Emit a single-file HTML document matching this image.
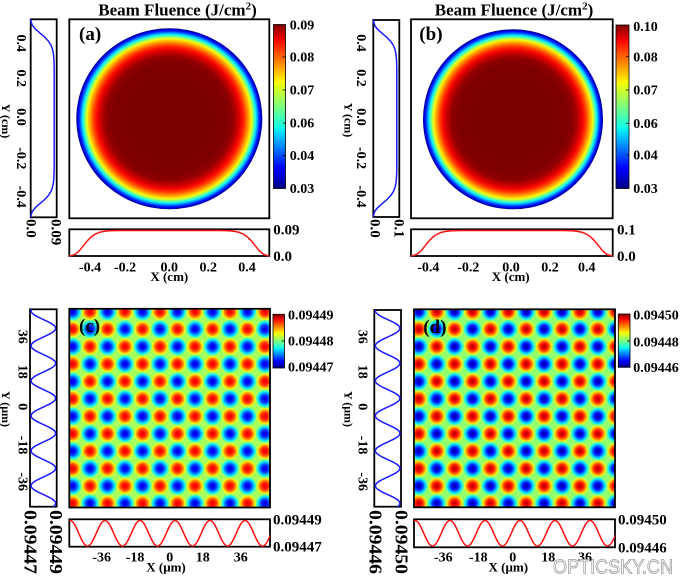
<!DOCTYPE html>
<html><head><meta charset="utf-8"><style>
html,body{margin:0;padding:0;background:#fff;}
svg{display:block;}
</style></head><body>
<svg width="680" height="579" viewBox="0 0 680 579" xmlns="http://www.w3.org/2000/svg" font-family="'Liberation Serif', serif" font-weight="bold">
<defs>
  <linearGradient id="jet" x1="0" y1="0" x2="0" y2="1">
    <stop offset="0" stop-color="#800000"/>
    <stop offset="0.09" stop-color="#f20000"/>
    <stop offset="0.11" stop-color="#ff1200"/>
    <stop offset="0.34" stop-color="#ffee00"/>
    <stop offset="0.36" stop-color="#f0ff08"/>
    <stop offset="0.625" stop-color="#14ffe6"/>
    <stop offset="0.66" stop-color="#00dbff"/>
    <stop offset="0.875" stop-color="#0000ff"/>
    <stop offset="0.89" stop-color="#0000fa"/>
    <stop offset="1" stop-color="#000080"/>
  </linearGradient>
  <radialGradient id="beam" cx="50%" cy="50%" r="50%">
    <stop offset="0" stop-color="#7a0000"/>
    <stop offset="0.6" stop-color="#7e0000"/>
    <stop offset="0.63" stop-color="#850000"/>
    <stop offset="0.67" stop-color="#8c0000"/>
    <stop offset="0.70" stop-color="#a00000"/>
    <stop offset="0.73" stop-color="#c00000"/>
    <stop offset="0.76" stop-color="#e40000"/>
    <stop offset="0.79" stop-color="#ff1400"/>
    <stop offset="0.82" stop-color="#ff5000"/>
    <stop offset="0.845" stop-color="#ff9000"/>
    <stop offset="0.87" stop-color="#ffd000"/>
    <stop offset="0.885" stop-color="#f0ff10"/>
    <stop offset="0.905" stop-color="#90ff70"/>
    <stop offset="0.925" stop-color="#20ffe0"/>
    <stop offset="0.94" stop-color="#00c8ff"/>
    <stop offset="0.955" stop-color="#0070ff"/>
    <stop offset="0.97" stop-color="#0020ff"/>
    <stop offset="0.985" stop-color="#0000d8"/>
    <stop offset="1" stop-color="#000088"/>
  </radialGradient>
  <radialGradient id="rc" cx="50%" cy="50%" r="50%">
    <stop offset="0" stop-color="#e80000"/>
    <stop offset="0.25" stop-color="#ff0c00"/>
    <stop offset="0.45" stop-color="#ff4400"/>
    <stop offset="0.6" stop-color="#ff8c00"/>
    <stop offset="0.72" stop-color="#ffc800"/>
    <stop offset="0.82" stop-color="#e8ff20"/>
    <stop offset="0.92" stop-color="#b8ff48"/>
    <stop offset="1" stop-color="#a6ff5c"/>
  </radialGradient>
  <radialGradient id="bc" cx="50%" cy="50%" r="50%">
    <stop offset="0" stop-color="#0000c8"/>
    <stop offset="0.25" stop-color="#0008ff"/>
    <stop offset="0.45" stop-color="#0050ff"/>
    <stop offset="0.6" stop-color="#0098ff"/>
    <stop offset="0.72" stop-color="#00d8ff"/>
    <stop offset="0.82" stop-color="#20ffe0"/>
    <stop offset="0.92" stop-color="#68ff98"/>
    <stop offset="1" stop-color="#a6ff5c"/>
  </radialGradient>
  <radialGradient id="rd" cx="50%" cy="50%" r="50%">
    <stop offset="0" stop-color="#b00000"/>
    <stop offset="0.2" stop-color="#e00000"/>
    <stop offset="0.35" stop-color="#ff1000"/>
    <stop offset="0.5" stop-color="#ff5000"/>
    <stop offset="0.62" stop-color="#ff9000"/>
    <stop offset="0.74" stop-color="#ffd000"/>
    <stop offset="0.84" stop-color="#d8ff30"/>
    <stop offset="0.93" stop-color="#a8ff58"/>
    <stop offset="1" stop-color="#94ff6c"/>
  </radialGradient>
  <radialGradient id="bd" cx="50%" cy="50%" r="50%">
    <stop offset="0" stop-color="#000090"/>
    <stop offset="0.2" stop-color="#0000d8"/>
    <stop offset="0.35" stop-color="#0010ff"/>
    <stop offset="0.5" stop-color="#0058ff"/>
    <stop offset="0.62" stop-color="#00a0ff"/>
    <stop offset="0.74" stop-color="#00e0ff"/>
    <stop offset="0.84" stop-color="#30ffd0"/>
    <stop offset="0.93" stop-color="#70ff90"/>
    <stop offset="1" stop-color="#94ff6c"/>
  </radialGradient>
  <pattern id="pc" patternUnits="userSpaceOnUse" x="90" y="311.7" width="35" height="34.86">
    <rect width="35" height="34.86" fill="#a6ff5c"/>
    <circle cx="0" cy="0" r="9.3" fill="url(#rc)"/>
    <circle cx="35" cy="0" r="9.3" fill="url(#rc)"/>
    <circle cx="0" cy="34.86" r="9.3" fill="url(#rc)"/>
    <circle cx="35" cy="34.86" r="9.3" fill="url(#rc)"/>
    <circle cx="17.5" cy="17.43" r="9.3" fill="url(#rc)"/>
    <circle cx="17.5" cy="0" r="9.3" fill="url(#bc)"/>
    <circle cx="17.5" cy="34.86" r="9.3" fill="url(#bc)"/>
    <circle cx="0" cy="17.43" r="9.3" fill="url(#bc)"/>
    <circle cx="35" cy="17.43" r="9.3" fill="url(#bc)"/>
  </pattern>
  <pattern id="pd" patternUnits="userSpaceOnUse" x="436.7" y="311.7" width="35.8" height="34.86">
    <rect width="35.8" height="34.86" fill="#94ff6c"/>
    <circle cx="0" cy="0" r="9.5" fill="url(#rd)"/>
    <circle cx="35.8" cy="0" r="9.5" fill="url(#rd)"/>
    <circle cx="0" cy="34.86" r="9.5" fill="url(#rd)"/>
    <circle cx="35.8" cy="34.86" r="9.5" fill="url(#rd)"/>
    <circle cx="17.9" cy="17.43" r="9.5" fill="url(#rd)"/>
    <circle cx="17.9" cy="0" r="9.5" fill="url(#bd)"/>
    <circle cx="17.9" cy="34.86" r="9.5" fill="url(#bd)"/>
    <circle cx="0" cy="17.43" r="9.5" fill="url(#bd)"/>
    <circle cx="35.8" cy="17.43" r="9.5" fill="url(#bd)"/>
  </pattern>
  <clipPath id="clc"><rect x="30" y="309.3" width="26.7" height="197.4"/></clipPath>
  <clipPath id="cbc"><rect x="69.3" y="519.3" width="200.7" height="27.4"/></clipPath>
  <clipPath id="cld"><rect x="374.3" y="310" width="26.7" height="196.7"/></clipPath>
  <clipPath id="cbd"><rect x="414" y="519.3" width="201" height="28"/></clipPath>
</defs>

<rect width="680" height="579" fill="#fff"/>

<!-- ================= PANEL (a) ================= -->
<text x="177.5" y="15.5" text-anchor="middle" font-size="17">Beam Fluence (J/cm<tspan font-size="11" dy="-6">2</tspan><tspan dy="6">)</tspan></text>
<rect x="69.3" y="19.3" width="200" height="199" fill="#fff" stroke="#000" stroke-width="1.8"/>
<ellipse cx="169.3" cy="118.8" rx="93" ry="90.5" fill="url(#beam)"/>
<text x="79" y="40" font-size="19">(a)</text>
<rect x="273.5" y="24.5" width="12" height="164" fill="url(#jet)" stroke="#000" stroke-width="0.8"/>
<g stroke="#000" stroke-width="0.8">
  <line x1="282.5" y1="57" x2="285.5" y2="57"/><line x1="282.5" y1="90" x2="285.5" y2="90"/>
  <line x1="282.5" y1="123" x2="285.5" y2="123"/><line x1="282.5" y1="155.5" x2="285.5" y2="155.5"/>
</g>
<g font-size="14">
  <text x="289.7" y="29.7">0.09</text>
  <text x="289.7" y="61.7">0.08</text>
  <text x="289.7" y="94.7">0.07</text>
  <text x="289.7" y="127.7">0.06</text>
  <text x="289.7" y="160.2">0.04</text>
  <text x="289.7" y="193">0.03</text>
</g>
<!-- left profile a -->
<rect x="30.7" y="19.3" width="26" height="198" fill="none" stroke="#000" stroke-width="1.8"/>
<polyline fill="none" stroke="#1a1aff" stroke-width="1.5" stroke-linejoin="round" points="30.8,19.3 31.0,21.3 32.3,25.2 35.5,29.2 40.1,33.2 42.45,35.1 44.7,37.1 48.4,41.1 50.9,45.0 52.4,49.0 53.3,53.0 53.9,58.9 54.2,68 54.2,168.6 53.9,177.7 53.3,183.6 52.4,187.6 50.9,191.6 48.4,195.5 44.7,199.5 42.45,201.5 40.1,203.4 35.5,207.4 32.3,211.4 31.0,215.3 30.8,217.3"/>
<g font-size="14" text-anchor="middle">
  <text transform="translate(21.7,43.3) rotate(90)" y="4.7">0.4</text>
  <text transform="translate(21.7,78.3) rotate(90)" y="4.7">0.2</text>
  <text transform="translate(21.7,117) rotate(90)" y="4.7">0.0</text>
  <text transform="translate(21.7,158.3) rotate(90)" y="4.7">-0.2</text>
  <text transform="translate(21.7,196.7) rotate(90)" y="4.7">-0.4</text>
</g>
<text transform="translate(6,121) rotate(90)" y="4" font-size="12" text-anchor="middle">Y (cm)</text>
<g font-size="15">
  <text transform="translate(31.7,219) rotate(90)" y="5">0.0</text>
  <text transform="translate(56.7,219) rotate(90)" y="5">0.09</text>
</g>
<!-- bottom profile a -->
<rect x="69.3" y="229.3" width="200" height="26.7" fill="none" stroke="#000" stroke-width="1.8"/>
<polyline fill="none" stroke="#ff1010" stroke-width="1.5" stroke-linejoin="round" points="69.3,255.9 71.3,255.7 75.3,254.2 79.3,250.8 83.3,245.8 85.3,243.3 87.3,240.8 91.3,236.8 95.3,234.1 99.3,232.4 103.3,231.5 109.3,230.8 119.3,230.5 219.3,230.5 229.3,230.8 235.3,231.5 239.3,232.4 243.3,234.1 247.3,236.8 251.3,240.8 253.3,243.3 255.3,245.8 259.3,250.8 263.3,254.2 267.3,255.7 269.3,255.9"/>
<g font-size="15">
  <text x="273.3" y="234.3">0.09</text>
  <text x="273.3" y="261">0.0</text>
</g>
<g font-size="14" text-anchor="middle">
  <text x="90" y="271.5">-0.4</text>
  <text x="125" y="271.5">-0.2</text>
  <text x="169.3" y="271.5">0.0</text>
  <text x="208.3" y="271.5">0.2</text>
  <text x="247" y="271.5">0.4</text>
</g>
<text x="169.3" y="281" font-size="13" text-anchor="middle">X (cm)</text>

<!-- ================= PANEL (b) ================= -->
<text x="514" y="15.5" text-anchor="middle" font-size="17">Beam Fluence (J/cm<tspan font-size="11" dy="-6">2</tspan><tspan dy="6">)</tspan></text>
<rect x="411" y="19.3" width="201.7" height="199" fill="#fff" stroke="#000" stroke-width="1.8"/>
<ellipse cx="513" cy="119.3" rx="90" ry="90" fill="url(#beam)"/>
<text x="419.3" y="40" font-size="19">(b)</text>
<rect x="616" y="25" width="13" height="163.5" fill="url(#jet)" stroke="#000" stroke-width="0.8"/>
<g stroke="#000" stroke-width="0.8">
  <line x1="626" y1="56.7" x2="629" y2="56.7"/><line x1="626" y1="90" x2="629" y2="90"/>
  <line x1="626" y1="123.3" x2="629" y2="123.3"/><line x1="626" y1="155" x2="629" y2="155"/>
</g>
<g font-size="14">
  <text x="633.3" y="31">0.10</text>
  <text x="633.3" y="61.4">0.08</text>
  <text x="633.3" y="94.7">0.07</text>
  <text x="633.3" y="128">0.06</text>
  <text x="633.3" y="159.7">0.04</text>
  <text x="633.3" y="193">0.03</text>
</g>
<rect x="373.3" y="20" width="26" height="197" fill="none" stroke="#000" stroke-width="1.8"/>
<polyline fill="none" stroke="#1a1aff" stroke-width="1.5" stroke-linejoin="round" points="373.4,20 373.6,22 374.9,25.9 378.1,29.85 382.7,33.8 385.05,35.8 387.3,37.7 391.0,41.7 393.5,45.6 395.0,49.5 395.9,53.5 396.5,59.4 396.8,68 396.8,169 396.5,177.6 395.9,183.5 395.0,187.5 393.5,191.4 391.0,195.3 387.3,199.3 385.05,201.2 382.7,203.2 378.1,207.15 374.9,211.1 373.6,215 373.4,217"/>
<g font-size="14" text-anchor="middle">
  <text transform="translate(361.7,43) rotate(90)" y="4.7">0.4</text>
  <text transform="translate(361.7,78) rotate(90)" y="4.7">0.2</text>
  <text transform="translate(361.7,117) rotate(90)" y="4.7">0.0</text>
  <text transform="translate(361.7,158) rotate(90)" y="4.7">-0.2</text>
  <text transform="translate(361.7,196.5) rotate(90)" y="4.7">-0.4</text>
</g>
<text transform="translate(348.3,120) rotate(90)" y="4" font-size="12" text-anchor="middle">Y (cm)</text>
<g font-size="15">
  <text transform="translate(375.5,219) rotate(90)" y="5">0.0</text>
  <text transform="translate(399.5,219) rotate(90)" y="5">0.1</text>
</g>
<rect x="411" y="229.3" width="201.7" height="26.7" fill="none" stroke="#000" stroke-width="1.8"/>
<polyline fill="none" stroke="#ff1010" stroke-width="1.5" stroke-linejoin="round" points="411,255.9 413.0,255.7 417.05,254.2 421.1,250.8 425.1,245.8 427.1,243.3 429.15,240.8 433.2,236.8 437.2,234.1 441.25,232.4 445.3,231.5 451.35,230.8 461.5,230.5 562,230.5 572.35,230.8 578.4,231.5 582.45,232.4 586.5,234.1 590.5,236.8 594.55,240.8 596.6,243.3 598.6,245.8 602.6,250.8 606.65,254.2 610.7,255.7 612.7,255.9"/>
<g font-size="15">
  <text x="617" y="234.3">0.1</text>
  <text x="617" y="261">0.0</text>
</g>
<g font-size="14" text-anchor="middle">
  <text x="428.3" y="271.5">-0.4</text>
  <text x="468.3" y="271.5">-0.2</text>
  <text x="511" y="271.5">0.0</text>
  <text x="550" y="271.5">0.2</text>
  <text x="586.7" y="271.5">0.4</text>
</g>
<text x="510.7" y="281" font-size="13" text-anchor="middle">X (cm)</text>

<!-- ================= PANEL (c) ================= -->
<rect x="69.3" y="308.8" width="200.7" height="198.7" fill="url(#pc)"/>
<rect x="69.3" y="308.8" width="200.7" height="198.7" fill="none" stroke="#000" stroke-width="1.8"/>
<text x="79" y="332" font-size="19">(c)</text>
<rect x="273" y="314.3" width="11.5" height="53.7" fill="url(#jet)" stroke="#000" stroke-width="0.8"/>
<line x1="281.5" y1="341" x2="284.5" y2="341" stroke="#000" stroke-width="0.8"/>
<g font-size="14">
  <text x="288" y="319.7">0.09449</text>
  <text x="288" y="345.7">0.09448</text>
  <text x="288" y="371.7">0.09447</text>
</g>
<rect x="30" y="309.3" width="26.7" height="197.4" fill="none" stroke="#000" stroke-width="1.8"/>
<path clip-path="url(#clc)" fill="none" stroke="#1a1aff" stroke-width="1.5" d="M55.65,293.3 c0,3.167 -6.0,5.897 -12.3,8.75 c-6.3,2.853 -12.3,5.583 -12.3,8.75 c0,3.167 6.0,5.897 12.3,8.75 c6.3,2.853 12.3,5.583 12.3,8.75 c0,3.167 -6.0,5.897 -12.3,8.75 c-6.3,2.853 -12.3,5.583 -12.3,8.75 c0,3.167 6.0,5.897 12.3,8.75 c6.3,2.853 12.3,5.583 12.3,8.75 c0,3.167 -6.0,5.897 -12.3,8.75 c-6.3,2.853 -12.3,5.583 -12.3,8.75 c0,3.167 6.0,5.897 12.3,8.75 c6.3,2.853 12.3,5.583 12.3,8.75 c0,3.167 -6.0,5.897 -12.3,8.75 c-6.3,2.853 -12.3,5.583 -12.3,8.75 c0,3.167 6.0,5.897 12.3,8.75 c6.3,2.853 12.3,5.583 12.3,8.75 c0,3.167 -6.0,5.897 -12.3,8.75 c-6.3,2.853 -12.3,5.583 -12.3,8.75 c0,3.167 6.0,5.897 12.3,8.75 c6.3,2.853 12.3,5.583 12.3,8.75 c0,3.167 -6.0,5.897 -12.3,8.75 c-6.3,2.853 -12.3,5.583 -12.3,8.75 c0,3.167 6.0,5.897 12.3,8.75 c6.3,2.853 12.3,5.583 12.3,8.75 c0,3.167 -6.0,5.897 -12.3,8.75 c-6.3,2.853 -12.3,5.583 -12.3,8.75 c0,3.167 6.0,5.897 12.3,8.75 c6.3,2.853 12.3,5.583 12.3,8.75"/>
<g font-size="14" text-anchor="middle">
  <text transform="translate(23.3,336.7) rotate(90)" y="4.7">36</text>
  <text transform="translate(23.3,371.7) rotate(90)" y="4.7">18</text>
  <text transform="translate(23.3,406.7) rotate(90)" y="4.7">0</text>
  <text transform="translate(23.3,445) rotate(90)" y="4.7">-18</text>
  <text transform="translate(23.3,481.7) rotate(90)" y="4.7">-36</text>
</g>
<text transform="translate(6,409) rotate(90)" y="4" font-size="12" text-anchor="middle">Y (μm)</text>
<g font-size="18">
  <text transform="translate(30.5,510) rotate(90)" y="6" textLength="64" lengthAdjust="spacingAndGlyphs">0.09447</text>
  <text transform="translate(55.8,510) rotate(90)" y="6" textLength="64" lengthAdjust="spacingAndGlyphs">0.09449</text>
</g>
<rect x="69.3" y="519.3" width="200.7" height="27.4" fill="none" stroke="#000" stroke-width="1.8"/>
<path clip-path="url(#cbc)" fill="none" stroke="#ff1010" stroke-width="1.5" d="M35,520.5 c3.167,0 5.897,6.243 8.75,12.8 c2.853,6.557 5.583,12.8 8.75,12.8 c3.167,0 5.897,-6.243 8.75,-12.8 c2.853,-6.557 5.583,-12.8 8.75,-12.8 c3.167,0 5.897,6.243 8.75,12.8 c2.853,6.557 5.583,12.8 8.75,12.8 c3.167,0 5.897,-6.243 8.75,-12.8 c2.853,-6.557 5.583,-12.8 8.75,-12.8 c3.167,0 5.897,6.243 8.75,12.8 c2.853,6.557 5.583,12.8 8.75,12.8 c3.167,0 5.897,-6.243 8.75,-12.8 c2.853,-6.557 5.583,-12.8 8.75,-12.8 c3.167,0 5.897,6.243 8.75,12.8 c2.853,6.557 5.583,12.8 8.75,12.8 c3.167,0 5.897,-6.243 8.75,-12.8 c2.853,-6.557 5.583,-12.8 8.75,-12.8 c3.167,0 5.897,6.243 8.75,12.8 c2.853,6.557 5.583,12.8 8.75,12.8 c3.167,0 5.897,-6.243 8.75,-12.8 c2.853,-6.557 5.583,-12.8 8.75,-12.8 c3.167,0 5.897,6.243 8.75,12.8 c2.853,6.557 5.583,12.8 8.75,12.8 c3.167,0 5.897,-6.243 8.75,-12.8 c2.853,-6.557 5.583,-12.8 8.75,-12.8 c3.167,0 5.897,6.243 8.75,12.8 c2.853,6.557 5.583,12.8 8.75,12.8 c3.167,0 5.897,-6.243 8.75,-12.8 c2.853,-6.557 5.583,-12.8 8.75,-12.8"/>
<g font-size="15">
  <text x="273" y="524.3">0.09449</text>
  <text x="273" y="551.7">0.09447</text>
</g>
<g font-size="14" text-anchor="middle">
  <text x="101.7" y="561.5">-36</text>
  <text x="135" y="561.5">-18</text>
  <text x="169.7" y="561.5">0</text>
  <text x="202.7" y="561.5">18</text>
  <text x="240.7" y="561.5">36</text>
</g>
<text x="166" y="571.5" font-size="13" text-anchor="middle">X (μm)</text>

<!-- ================= PANEL (d) ================= -->
<rect x="414" y="309.3" width="201" height="198" fill="url(#pd)"/>
<rect x="414" y="309.3" width="201" height="198" fill="none" stroke="#000" stroke-width="1.8"/>
<text x="423.3" y="333" font-size="19">(d)</text>
<rect x="618.3" y="314" width="11.7" height="53.3" fill="url(#jet)" stroke="#000" stroke-width="0.8"/>
<line x1="627" y1="341" x2="630" y2="341" stroke="#000" stroke-width="0.8"/>
<g font-size="14">
  <text x="633.3" y="319.7">0.09450</text>
  <text x="633.3" y="346.4">0.09448</text>
  <text x="633.3" y="372">0.09446</text>
</g>
<rect x="374.3" y="310" width="26.7" height="196.7" fill="none" stroke="#000" stroke-width="1.8"/>
<path clip-path="url(#cld)" fill="none" stroke="#1a1aff" stroke-width="1.5" d="M399.95,293.3 c0,3.167 -6.0,5.897 -12.3,8.75 c-6.3,2.853 -12.3,5.583 -12.3,8.75 c0,3.167 6.0,5.897 12.3,8.75 c6.3,2.853 12.3,5.583 12.3,8.75 c0,3.167 -6.0,5.897 -12.3,8.75 c-6.3,2.853 -12.3,5.583 -12.3,8.75 c0,3.167 6.0,5.897 12.3,8.75 c6.3,2.853 12.3,5.583 12.3,8.75 c0,3.167 -6.0,5.897 -12.3,8.75 c-6.3,2.853 -12.3,5.583 -12.3,8.75 c0,3.167 6.0,5.897 12.3,8.75 c6.3,2.853 12.3,5.583 12.3,8.75 c0,3.167 -6.0,5.897 -12.3,8.75 c-6.3,2.853 -12.3,5.583 -12.3,8.75 c0,3.167 6.0,5.897 12.3,8.75 c6.3,2.853 12.3,5.583 12.3,8.75 c0,3.167 -6.0,5.897 -12.3,8.75 c-6.3,2.853 -12.3,5.583 -12.3,8.75 c0,3.167 6.0,5.897 12.3,8.75 c6.3,2.853 12.3,5.583 12.3,8.75 c0,3.167 -6.0,5.897 -12.3,8.75 c-6.3,2.853 -12.3,5.583 -12.3,8.75 c0,3.167 6.0,5.897 12.3,8.75 c6.3,2.853 12.3,5.583 12.3,8.75 c0,3.167 -6.0,5.897 -12.3,8.75 c-6.3,2.853 -12.3,5.583 -12.3,8.75 c0,3.167 6.0,5.897 12.3,8.75 c6.3,2.853 12.3,5.583 12.3,8.75"/>
<g font-size="14" text-anchor="middle">
  <text transform="translate(363.3,336.7) rotate(90)" y="4.7">36</text>
  <text transform="translate(363.3,371.7) rotate(90)" y="4.7">18</text>
  <text transform="translate(363.3,406.7) rotate(90)" y="4.7">0</text>
  <text transform="translate(363.3,445) rotate(90)" y="4.7">-18</text>
  <text transform="translate(363.3,481.7) rotate(90)" y="4.7">-36</text>
</g>
<text transform="translate(348.3,409) rotate(90)" y="4" font-size="12" text-anchor="middle">Y (μm)</text>
<g font-size="18">
  <text transform="translate(375.5,510) rotate(90)" y="6" textLength="64" lengthAdjust="spacingAndGlyphs">0.09446</text>
  <text transform="translate(401.5,510) rotate(90)" y="6" textLength="64" lengthAdjust="spacingAndGlyphs">0.09450</text>
</g>
<rect x="414" y="519.3" width="201" height="28" fill="none" stroke="#000" stroke-width="1.8"/>
<path clip-path="url(#cbd)" fill="none" stroke="#ff1010" stroke-width="1.5" d="M380,520.5 c3.167,0 5.897,6.243 8.75,12.8 c2.853,6.557 5.583,12.8 8.75,12.8 c3.167,0 5.897,-6.243 8.75,-12.8 c2.853,-6.557 5.583,-12.8 8.75,-12.8 c3.167,0 5.897,6.243 8.75,12.8 c2.853,6.557 5.583,12.8 8.75,12.8 c3.167,0 5.897,-6.243 8.75,-12.8 c2.853,-6.557 5.583,-12.8 8.75,-12.8 c3.167,0 5.897,6.243 8.75,12.8 c2.853,6.557 5.583,12.8 8.75,12.8 c3.167,0 5.897,-6.243 8.75,-12.8 c2.853,-6.557 5.583,-12.8 8.75,-12.8 c3.167,0 5.897,6.243 8.75,12.8 c2.853,6.557 5.583,12.8 8.75,12.8 c3.167,0 5.897,-6.243 8.75,-12.8 c2.853,-6.557 5.583,-12.8 8.75,-12.8 c3.167,0 5.897,6.243 8.75,12.8 c2.853,6.557 5.583,12.8 8.75,12.8 c3.167,0 5.897,-6.243 8.75,-12.8 c2.853,-6.557 5.583,-12.8 8.75,-12.8 c3.167,0 5.897,6.243 8.75,12.8 c2.853,6.557 5.583,12.8 8.75,12.8 c3.167,0 5.897,-6.243 8.75,-12.8 c2.853,-6.557 5.583,-12.8 8.75,-12.8 c3.167,0 5.897,6.243 8.75,12.8 c2.853,6.557 5.583,12.8 8.75,12.8 c3.167,0 5.897,-6.243 8.75,-12.8 c2.853,-6.557 5.583,-12.8 8.75,-12.8"/>
<g font-size="15">
  <text x="618" y="524.3">0.09450</text>
  <text x="618" y="552.3">0.09446</text>
</g>
<g font-size="14" text-anchor="middle">
  <text x="443.3" y="561.5">-36</text>
  <text x="478.3" y="561.5">-18</text>
  <text x="512.7" y="561.5">0</text>
  <text x="548.3" y="561.5">18</text>
  <text x="585" y="561.5">36</text>
</g>
<text x="508.3" y="571.5" font-size="13" text-anchor="middle">X (μm)</text>

<!-- watermark -->
<text x="553" y="573.5" font-family="'Liberation Sans', sans-serif" font-weight="normal" font-size="20" fill="#fff" stroke="#9a9a9a" stroke-width="0.8" textLength="120" lengthAdjust="spacingAndGlyphs">OPTICSKY.CN</text>
</svg>
</body></html>
